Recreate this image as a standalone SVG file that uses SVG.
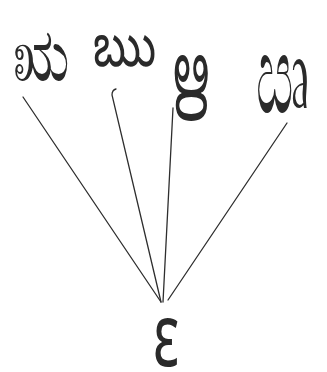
<svg xmlns="http://www.w3.org/2000/svg" width="327" height="372" viewBox="0 0 327 372">
<style>
.g{font-family:'Noto Sans','DejaVu Sans',sans-serif;fill:#2a2a2a;text-anchor:middle}
.c{fill:none;stroke:#2e2e2e;stroke-width:1.3;stroke-linecap:round}
</style>
<rect width="327" height="372" fill="#fff"/>
<g id="node-1"><text class="g" transform="translate(41,80) scale(1.05,1.5)" font-size="50">ಋ</text></g>
<g id="node-2"><text class="g" transform="translate(124,66) scale(0.95,1.35)" font-size="46">ఋ</text></g>
<g id="node-3"><text class="g" transform="translate(189,102) scale(0.85,1.7)" font-size="50">ഋ</text></g>
<g id="node-4"><text class="g" transform="translate(283,113) scale(1,2.1)" font-size="52">ඍ</text></g>
<g id="node-root"><text class="g" transform="translate(166,366) scale(0.9,1.4)" font-size="62">ε</text></g>
<g id="connectors">
<path class="c" d="M23 97 L161 302"/>
<path class="c" d="M116 89 Q112 90 112 95 L161 302"/>
<path class="c" d="M173 108 L163 302"/>
<path class="c" d="M287 123 L168 300"/>
</g>
</svg>
